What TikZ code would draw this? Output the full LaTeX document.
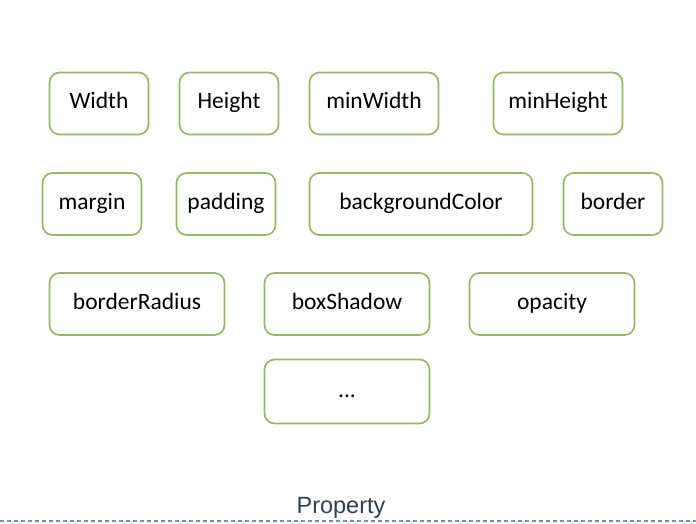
\documentclass[tikz,border=0pt]{standalone}
\usepackage{fontspec}
\setmainfont{Carlito}
\newfontfamily\labelfont{Liberation Sans}
\usepackage{tikz}
\usetikzlibrary{positioning}

\definecolor{propgreen}{RGB}{155,181,102}
\definecolor{sepblue}{RGB}{108,142,191}
\definecolor{labelgray}{RGB}{51,63,80}

\begin{document}
\begin{tikzpicture}[
        x=1pt, y=-1pt,
        font=\fontsize{23.5}{28}\selectfont,
        prop/.style={
            draw=propgreen,
            line width=1.7pt,
            rounded corners=10pt,
            fill=white,
            align=center,
            inner sep=0pt,
            text height=13pt,
            text depth=2pt,
            minimum height=62pt
        },
        caption/.style={
            font=\labelfont\fontsize{23.5}{28}\selectfont,
            text=labelgray,
            anchor=base
        },
        separator/.style={
            draw=sepblue,
            line width=2pt,
            dash pattern=on 4pt off 3pt
        }
    ]
        \useasboundingbox (0,0) rectangle (696,524);

        % first row
        \node[prop, minimum width=99pt] (width) at (99,103.5) {Width};
        \node[prop, minimum width=99pt] (height) at (229,103.5) {Height};
        \node[prop, minimum width=129pt] (minwidth) at (374,103.5) {minWidth};
        \node[prop, minimum width=129pt] (minheight) at (558,103.5) {minHeight};

        % second row
        \node[prop, minimum width=99pt] (margin) at (92,204) {margin};
        \node[prop, minimum width=99pt] (padding) at (226,204) {padding};
        \node[prop, minimum width=223pt] (bgcolor) at (421,204) {backgroundColor};
        \node[prop, minimum width=99pt] (border) at (613,204) {border};

        % third row
        \node[prop, minimum width=175pt] (radius) at (137,304) {borderRadius};
        \node[prop, minimum width=165pt] (shadow) at (347,304) {boxShadow};
        \node[prop, minimum width=165pt] (opacity) at (552,304) {opacity};

        \node[prop, minimum width=165pt, minimum height=64pt] (more) at (347,391.5) {...};

        \node[caption] (title) at (341,513) {Property};

        \coordinate (sepleft) at (0,521);
        \coordinate (sepright) at (696,521);
        \draw[separator] (sepleft) -- (sepright);
    \end{tikzpicture}
\end{document}
